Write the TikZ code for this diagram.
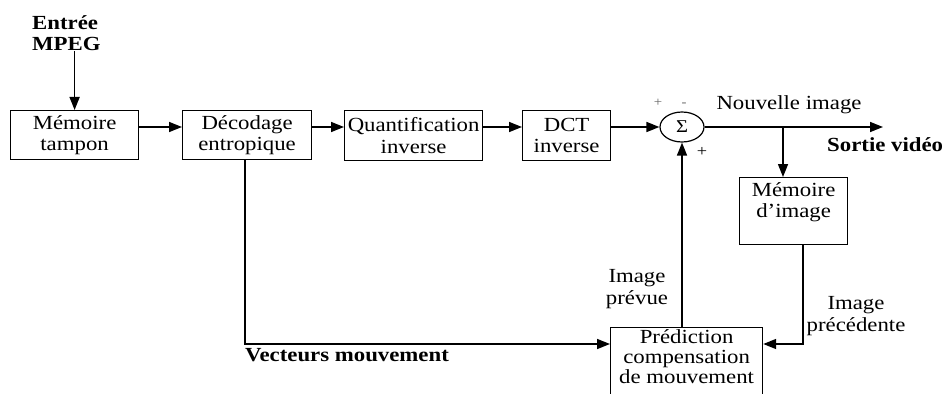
\documentclass[tikz,border=0pt]{standalone}
\usepackage{fontspec}
\setmainfont{Liberation Serif}[FakeStretch=1.14]
\usetikzlibrary{arrows.meta,shapes.geometric,calc}
\newcommand\diagfont{\fontsize{20}{21.5}\selectfont}
\begin{document}
\begin{tikzpicture}[x=1pt,y=-1pt,
  box/.style={draw, line width=1.2pt, inner sep=0pt, align=center, font=\diagfont, anchor=north west},
  lab/.style={inner sep=0pt, align=center, font=\diagfont},
  blab/.style={inner sep=0pt, align=left, font=\diagfont\bfseries},
  arr/.style={line width=1.5pt, -{Triangle[length=13pt,width=10pt]}},
  ln/.style={line width=1.5pt}]
\useasboundingbox (0,0) rectangle (949,393);
% boxes
\node[box, minimum width=128pt, minimum height=49pt] (mt) at (10,110) {Mémoire\\tampon};
\node[box, minimum width=129pt, minimum height=49pt] (dec) at (182,110) {Décodage\\entropique};
\node[box, minimum width=138pt, minimum height=50pt] (q) at (344,110) {Quantification\\inverse};
\node[box, minimum width=88pt, minimum height=50pt] (dct) at (522,110) {DCT\\inverse};
\node[box, minimum width=108pt, minimum height=67pt] (mi) at (739,177) {};
\node[lab, anchor=north] (milab) at ($(mi.north)+(0,5)$) {Mémoire\\d’image};
\node[box, minimum width=152pt, minimum height=75pt] (pred) at (610,327) {};
\node[lab, anchor=north, font=\fontsize{20}{20}\selectfont] (predlab) at ($(pred.north)+(0,2)$) {Prédiction\\compensation\\de mouvement};
\node[draw, ellipse, line width=1.2pt, minimum width=44pt, minimum height=30pt, inner sep=0pt, font=\fontsize{18}{18}\selectfont] (sum) at (682,127) {Σ};
% labels
\node[blab, anchor=west] (in) at (32,33) {Entrée\\MPEG};
\node[lab] (nouv) at (789,105) {Nouvelle image};
\node[blab, anchor=west] (sortie) at (827,145) {Sortie vidéo};
\node[lab, font=\fontsize{13}{13}\selectfont, text=black!60] (p1) at (658,103) {+};
\node[lab, font=\fontsize{13}{13}\selectfont, text=black!60] (m1) at (684,105) {-};
\node[lab, font=\fontsize{16}{16}\selectfont] (p2) at (702,152) {+};
\node[lab] (iprev) at (637,289) {Image\\prévue};
\node[lab] (iprec) at (856,316) {Image\\précédente};
\node[blab, anchor=west] (vect) at (245,355) {Vecteurs mouvement};
% coordinates
\coordinate (outend) at (883,127);
\coordinate (br) at (783,127);
\coordinate (prevx) at (803,344);
\coordinate (vx) at (245,344);
% connectors
\draw[arr] (in.south -| mt.north) -- (mt.north);
\draw[arr] (mt.east |- sum) -- (dec.west |- sum);
\draw[arr] (dec.east |- sum) -- (q.west |- sum);
\draw[arr] (q.east |- sum) -- (dct.west |- sum);
\draw[arr] (dct.east |- sum) -- (sum.west);
\draw[arr] (sum.east) -- (outend);
\draw[arr] (br) -- (br |- mi.north);
\draw[arr] (prevx |- mi.south) -- (prevx) -- (pred.east |- prevx);
\draw[arr] (vx |- dec.south) -- (vx) -- (pred.west |- vx);
\draw[arr] (pred.north -| sum.south) -- (sum.south);
\end{tikzpicture}
\end{document}
